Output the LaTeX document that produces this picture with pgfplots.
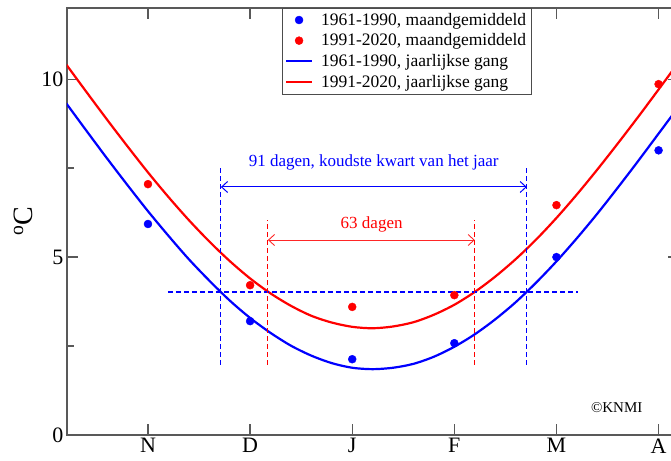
\documentclass[border=0pt]{standalone}
\usepackage{pgfplots}
\pgfplotsset{compat=1.18}
\usepackage{fontspec}
\setmainfont{Liberation Serif}
\usetikzlibrary{arrows.meta}
\pgfplotsset{longline/.style={legend image code/.code={\draw[##1, line width=2pt] (0pt,0pt) -- (26pt,0pt);}},
  dotlegend/.style={legend image code/.code={\draw[##1] plot coordinates {(13pt,0pt)};}}}
\begin{document}
\begin{tikzpicture}
\begin{axis}[
  scale only axis, width=612pt, height=427pt,
  xmin=-0.793, xmax=5.2, ymin=0, ymax=12,
  xtick={0,1,2,3,4,5}, xticklabels={N,D,J,F,M,A},
  ytick={0,5,10}, minor ytick={2.5,7.5},
  tick align=inside, major tick length=11pt, minor tick length=7pt,
  axis line style={draw=black!65, line width=1.4pt},
  every tick/.style={draw=black!65, line width=1.3pt},
  tick label style={font=\fontsize{22}{22}\selectfont},
  xticklabel style={yshift=0pt},
  /pgf/number format/assume math mode=true,
  ylabel={\textsuperscript{o}C},
  ylabel style={font=\fontsize{28}{28}\selectfont, at={(axis description cs:-0.072,0.5)}, anchor=center},
  legend style={at={(axis cs:1.311,12)}, anchor=north west, draw=black!70,
    font=\fontsize{17.5}{17.5}\selectfont, inner xsep=3pt, inner ysep=3pt, row sep=3pt,
    column sep=6pt, cells={anchor=west}},
  legend cell align=left,
]
\addplot[only marks, mark=*, mark size=4pt, color=blue, mark options={draw=blue, fill=blue}, dotlegend]
  coordinates {(0,5.93) (1,3.2) (2,2.13) (3,2.58) (4,5.0) (5,8.0)};
\addlegendentry{1961-1990, maandgemiddeld}
\addplot[only marks, mark=*, mark size=4pt, color=red, mark options={draw=red, fill=red}, dotlegend]
  coordinates {(0,7.05) (1,4.21) (2,3.6) (3,3.93) (4,6.46) (5,9.86)};
\addlegendentry{1991-2020, maandgemiddeld}
\addplot[blue, line width=2.2pt, smooth, longline]
  coordinates {(-0.8,9.32) (-0.6,8.54) (-0.4,7.77) (-0.2,7.02) (0,6.29) (0.2,5.60)
  (0.4,4.94) (0.6,4.34) (0.8,3.78) (1.0,3.29) (1.2,2.87) (1.4,2.51) (1.6,2.23)
  (1.8,2.02) (2.0,1.89) (2.2,1.85) (2.4,1.89) (2.6,2.00) (2.8,2.20) (3.0,2.48)
  (3.2,2.83) (3.4,3.25) (3.6,3.73) (3.8,4.28) (4.0,4.88) (4.2,5.53) (4.4,6.22)
  (4.6,6.95) (4.8,7.70) (5.0,8.47) (5.2,9.24)};
\addlegendentry{1961-1990, jaarlijkse gang}
\addplot[red, line width=2.2pt, smooth, longline]
  coordinates {(-0.8,10.41) (-0.6,9.63) (-0.4,8.86) (-0.2,8.11) (0,7.38) (0.2,6.69)
  (0.4,6.04) (0.6,5.44) (0.8,4.89) (1.0,4.40) (1.2,3.98) (1.4,3.63) (1.6,3.35)
  (1.8,3.16) (2.0,3.04) (2.2,3.00) (2.4,3.05) (2.6,3.17) (2.8,3.38) (3.0,3.66)
  (3.2,4.02) (3.4,4.45) (3.6,4.94) (3.8,5.49) (4.0,6.10) (4.2,6.76) (4.4,7.46)
  (4.6,8.19) (4.8,8.94) (5.0,9.71) (5.2,10.49)};
\addlegendentry{1991-2020, jaarlijkse gang}
% dashed guides
\addplot[blue, line width=1.1pt, dash pattern=on 5pt off 3pt, forget plot]
  coordinates {(0.196,4.02) (4.21,4.02)};
\addplot[blue, line width=1.1pt, dash pattern=on 5pt off 3pt, forget plot]
  coordinates {(0.714,1.97) (0.714,7.53)};
\addplot[blue, line width=1.1pt, dash pattern=on 5pt off 3pt, forget plot]
  coordinates {(3.71,1.97) (3.71,7.53)};
\addplot[red, line width=1.1pt, dash pattern=on 5pt off 3pt, forget plot]
  coordinates {(1.174,1.97) (1.174,6.04)};
\addplot[red, line width=1.1pt, dash pattern=on 5pt off 3pt, forget plot]
  coordinates {(3.20,1.97) (3.20,6.04)};
% arrows
\draw[draw=blue, line width=1pt, {Straight Barb[length=6pt,width=11pt]}-{Straight Barb[length=6pt,width=11pt]}]
  (axis cs:0.714,6.97) -- (axis cs:3.71,6.97);
\draw[draw=red!85, line width=0.9pt, {Straight Barb[length=6pt,width=11pt]}-{Straight Barb[length=6pt,width=11pt]}]
  (axis cs:1.174,5.48) -- (axis cs:3.20,5.48);
\node[blue, font=\fontsize{17}{17}\selectfont] at (axis cs:2.21,7.67) {91 dagen, koudste kwart van het jaar};
\node[red, font=\fontsize{17}{17}\selectfont] at (axis cs:2.19,5.93) {63 dagen};
\node[font=\fontsize{15}{15}\selectfont] at (axis cs:4.59,0.76) {\textcopyright KNMI};
\end{axis}
\pgfresetboundingbox
\path[use as bounding box] (-67pt,-25pt) rectangle (604pt,435pt);
\end{tikzpicture}
\end{document}
